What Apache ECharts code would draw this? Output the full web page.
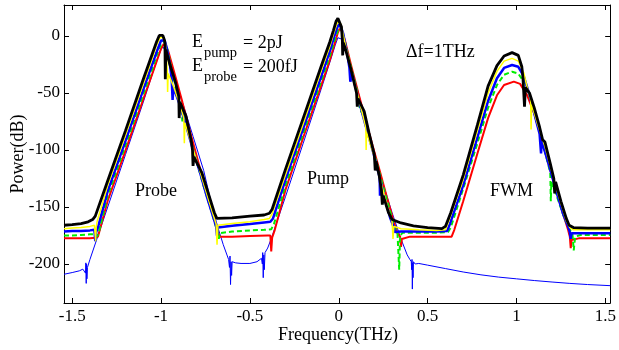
<!DOCTYPE html>
<html>
<head>
<meta charset="utf-8">
<script src="https://cdn.jsdelivr.net/npm/echarts@6/dist/echarts.min.js"></script>
<style>html,body{margin:0;padding:0;background:#fff;}#c{width:619px;height:350px;}</style>
</head>
<body>
<div id="c"></div>
<script>
const xTicks = [-1.5, -1, -0.5, 0, 0.5, 1, 1.5];
const yTicks = [-200, -150, -100, -50, 0];
const xLabelText = ['-1.5', '-1', '-0.5', '0', '0.5', '1', '1.5'];
const yLabelText = ['-200', '-150', '-100', '-50', '0'];
const xTitle = 'Frequency(THz)';
const yTitle = 'Power(dB)';

const blackPts = [[-1.546,-166],[-1.50,-165.5],[-1.45,-164.5],[-1.41,-163],[-1.385,-161],[-1.37,-158],
[-1.30,-127],[-1.20,-83],[-1.10,-38],[-1.05,-16],[-1.025,-5],[-1.01,0.5],[-1.0,2],[-0.99,0.5],[-0.98,-4],
[-0.978,-6],[-0.976,-38],[-0.973,-12],[-0.95,-25],[-0.92,-40],[-0.90,-53],[-0.898,-72],[-0.894,-58],[-0.86,-70],[-0.83,-92],[-0.823,-100],[-0.82,-114],[-0.815,-106],[-0.77,-120],[-0.73,-140],[-0.70,-155],[-0.686,-160],
[-0.675,-161],[-0.60,-159.5],[-0.50,-158],[-0.42,-157],[-0.39,-155.5],[-0.375,-152],
[-0.30,-117],[-0.20,-72],[-0.10,-27],[-0.05,-5],[-0.03,5],[-0.015,13],[-0.005,15.5],[0.005,14],[0.015,8],
[0.02,-3],[0.022,-17],[0.025,-6],[0.035,-10],[0.07,-30],[0.10,-50],[0.104,-62],[0.108,-55],[0.143,-66],[0.17,-85],[0.20,-104],[0.205,-118],[0.21,-110],[0.227,-122],[0.24,-135],[0.245,-148],[0.25,-140],[0.28,-155],[0.30,-161],
[0.35,-164],[0.42,-166.5],[0.50,-168],[0.58,-169],[0.60,-167],[0.63,-155],[0.70,-122],[0.78,-78],[0.84,-44],[0.89,-26],[0.93,-17.5],[0.975,-14.6],[1.01,-17],[1.03,-27],[1.036,-36],[1.045,-62],[1.05,-45],[1.073,-50],[1.10,-63],[1.13,-80],[1.147,-91],[1.16,-93],[1.19,-112],[1.21,-125],[1.215,-138],[1.22,-128],[1.25,-145],[1.28,-160],[1.296,-166],[1.32,-168],[1.40,-168.5],[1.527,-168.5]];

const yellowPts = [[-1.546,-169],[-1.50,-168.5],[-1.45,-168],[-1.40,-167],[-1.375,-166],[-1.368,-180],[-1.365,-168],[-1.36,-163],
[-1.30,-131],[-1.20,-87],[-1.10,-42],[-1.05,-20],[-1.025,-8],[-1.005,-1],[-0.995,0],[-0.985,-2],[-0.975,-7],
[-0.965,-30],[-0.963,-49],[-0.96,-33],[-0.93,-44],[-0.89,-62],[-0.872,-72],[-0.869,-94],[-0.866,-76],[-0.83,-94],[-0.78,-119],[-0.73,-145],[-0.70,-160],[-0.69,-165],[-0.685,-183],[-0.68,-166],
[-0.60,-164.5],[-0.50,-163],[-0.42,-161],[-0.39,-160],[-0.375,-156],
[-0.30,-122],[-0.20,-77],[-0.10,-31],[-0.05,-9],[-0.025,4],[-0.01,11],[0.0,13],[0.01,11],[0.02,5],
[0.04,-10],[0.08,-35],[0.12,-60],[0.152,-80],[0.154,-100],[0.156,-84],[0.20,-106],[0.24,-130],[0.28,-153],[0.30,-163],[0.305,-178],[0.31,-167],
[0.35,-169],[0.45,-170],[0.55,-170.5],[0.60,-170],[0.61,-166],
[0.70,-126],[0.78,-83],[0.84,-50],[0.89,-31],[0.93,-22],[0.975,-19.6],[1.01,-22],[1.04,-32],
[1.06,-45],[1.08,-56],[1.082,-82],[1.085,-60],[1.12,-78],[1.16,-97],[1.20,-120],[1.24,-142],[1.28,-162],[1.30,-168],[1.32,-170],[1.40,-170],[1.527,-170]];

const bluePts = [[-1.546,-171.5],[-1.50,-171],[-1.45,-171],[-1.40,-170.5],[-1.375,-170],[-1.37,-180],[-1.365,-172],[-1.355,-168],
[-1.30,-136],[-1.20,-92],[-1.10,-47],[-1.05,-25],[-1.02,-12],[-1.0,-4],[-0.99,-2.5],[-0.98,-4],[-0.97,-9],
[-0.95,-25],[-0.94,-38],[-0.935,-56],[-0.93,-45],[-0.90,-58],[-0.86,-78],[-0.82,-100],[-0.78,-120],[-0.74,-142],[-0.70,-162],[-0.69,-167],[-0.685,-175],[-0.68,-168],
[-0.60,-166.5],[-0.50,-165],[-0.42,-163.5],[-0.385,-163],[-0.37,-160],
[-0.30,-126],[-0.20,-81],[-0.10,-36],[-0.05,-13],[-0.025,0],[-0.01,7],[0.0,10],[0.012,8],[0.025,2],
[0.05,-18],[0.06,-28],[0.065,-40],[0.07,-40],[0.075,-33],[0.11,-55],[0.15,-78],[0.19,-100],[0.22,-118],[0.23,-124],[0.232,-140],[0.235,-127],[0.26,-143],[0.29,-160],[0.31,-168],[0.315,-172],
[0.35,-171.5],[0.45,-171.5],[0.55,-171.5],[0.61,-171],[0.625,-165],
[0.70,-131],[0.78,-89],[0.84,-57],[0.89,-37],[0.93,-28],[0.975,-25.4],[1.01,-27],[1.04,-35],
[1.07,-50],[1.10,-68],[1.13,-86],[1.138,-103],[1.142,-92],[1.18,-112],[1.22,-134],[1.26,-155],[1.29,-167],[1.30,-172],[1.305,-178],[1.31,-173],[1.35,-173],[1.527,-173]];

const greenPts = [[-1.546,-175],[-1.50,-175],[-1.45,-174.5],[-1.40,-174],[-1.37,-174],[-1.36,-176],[-1.35,-172],
[-1.30,-140],[-1.20,-96],[-1.10,-51],[-1.05,-29],[-1.02,-15],[-1.0,-7],[-0.985,-4.5],[-0.975,-6],[-0.965,-11],
[-0.94,-30],[-0.90,-55],[-0.885,-64],[-0.88,-75],[-0.875,-67],[-0.84,-88],[-0.80,-110],[-0.76,-132],[-0.72,-152],[-0.69,-168],[-0.68,-172],[-0.675,-178],[-0.67,-173],
[-0.60,-171.5],[-0.50,-170.5],[-0.42,-170],[-0.38,-169.5],[-0.365,-165],
[-0.30,-131],[-0.20,-85],[-0.10,-40],[-0.05,-17],[-0.02,-2],[-0.005,5],[0.005,8.5],[0.015,6],[0.03,-2],
[0.06,-22],[0.10,-46],[0.115,-58],[0.118,-64],[0.14,-70],[0.18,-93],[0.22,-115],[0.26,-138],[0.30,-160],[0.32,-170],[0.33,-172],[0.34,-205],[0.345,-175],
[0.36,-172.5],[0.45,-172.5],[0.55,-172.5],[0.615,-172],[0.63,-168],
[0.70,-134],[0.78,-94],[0.84,-63],[0.89,-43],[0.93,-34],[0.975,-31.3],[1.01,-33],[1.05,-42],
[1.08,-56],[1.11,-72],[1.15,-95],[1.19,-120],[1.193,-145],[1.196,-128],[1.23,-142],[1.27,-160],[1.30,-170],[1.315,-174],[1.322,-188],[1.33,-176],[1.36,-174.6],[1.527,-174.6]];

const redPts = [[-1.546,-177.5],[-1.50,-177.5],[-1.45,-177.5],[-1.40,-177.5],[-1.37,-177],[-1.355,-176],
[-1.30,-144.5],[-1.20,-100.5],[-1.10,-55.5],[-1.05,-33.5],[-1.02,-20],[-1.0,-11],[-0.985,-7],[-0.975,-7.5],[-0.96,-13],
[-0.92,-35],[-0.88,-58],[-0.84,-82],[-0.80,-105],[-0.76,-128],[-0.72,-150],[-0.68,-172],[-0.67,-176],
[-0.60,-176],[-0.50,-175.5],[-0.40,-175],[-0.385,-175],[-0.38,-189],[-0.375,-177],[-0.36,-170],
[-0.30,-135],[-0.20,-89],[-0.10,-44],[-0.05,-21],[-0.02,-5],[-0.005,3],[0.005,6.5],[0.018,4],[0.035,-4],
[0.07,-26],[0.11,-50],[0.15,-73],[0.19,-96],[0.23,-118],[0.27,-141],[0.31,-163],[0.33,-173],[0.345,-176],[0.35,-185],[0.355,-178],
[0.40,-176],[0.50,-176],[0.60,-176],[0.635,-176],[0.65,-170],
[0.70,-145],[0.78,-103],[0.84,-72],[0.89,-52],[0.93,-43],[0.985,-40],[1.02,-42],[1.06,-52],
[1.10,-68],[1.14,-90],[1.18,-112],[1.22,-134],[1.26,-155],[1.29,-170],[1.30,-176],[1.305,-186],[1.31,-179],[1.35,-177.5],[1.527,-177.5]];

const thinBluePts = [[-1.546,-209],[-1.50,-207.5],[-1.46,-206],[-1.44,-204.5],[-1.43,-203],[-1.425,-208],[-1.423,-199],[-1.421,-217],[-1.419,-200],[-1.417,-213],[-1.414,-203],
[-1.40,-196],[-1.30,-150],[-1.20,-104],[-1.10,-58],[-1.05,-34],[-1.02,-20],[-1.0,-12],[-0.99,-9.5],[-0.98,-10.5],[-0.97,-14],
[-0.93,-33],[-0.88,-58],[-0.82,-88],[-0.76,-118],[-0.712,-150],[-0.68,-168],[-0.65,-183],[-0.62,-196],[-0.615,-203],[-0.612,-193],[-0.609,-218],[-0.606,-198],[-0.603,-210],[-0.60,-198],[-0.58,-199],[-0.55,-199.5],[-0.50,-199.5],[-0.46,-198],[-0.435,-195],[-0.43,-200],[-0.428,-190],[-0.425,-212],[-0.422,-192],[-0.419,-205],[-0.415,-190],[-0.40,-186],[-0.378,-177],[-0.35,-164],
[-0.30,-141],[-0.20,-94],[-0.10,-47],[-0.05,-23],[-0.02,-8],[-0.005,-1.5],[0.005,-0.5],[0.02,-3],[0.04,-12],
[0.10,-44],[0.15,-73],[0.20,-102],[0.25,-130],[0.30,-155],[0.35,-178],[0.385,-192],[0.40,-196],[0.408,-198],[0.41,-205],[0.412,-196],[0.414,-222],[0.416,-199],[0.418,-212],[0.42,-198],[0.43,-200],
[0.45,-199.5],[0.50,-201],[0.60,-204],[0.70,-207],[0.80,-209.5],[0.90,-211.5],[1.0,-213],[1.1,-214.5],[1.2,-215.8],[1.3,-217],[1.4,-218],[1.527,-219]];

const annotations = {
  e1: 'E', s1: 'pump', v1: '= 2pJ',
  e2: 'E', s2: 'probe', v2: '= 200fJ',
  df: 'Δf=1THz', probe: 'Probe', pump: 'Pump', fwm: 'FWM'
};

const FONT = '"Liberation Serif", "Times New Roman", serif';
const chart = echarts.init(document.getElementById('c'), null, {renderer: 'canvas'});

function axisCommon(show) {
  return {
    axisLine: {show: true, lineStyle: {color: '#000', width: 1}},
    splitLine: {show: false},
  };
}

function mkLine(name, data, color, width, type, z) {
  return {
    name, type: 'line', data, showSymbol: false, symbol: 'none',
    lineStyle: {color, width, type: type || 'solid'},
    z: z, animation: false, silent: true, clip: true
  };
}

const T = (text, x, y, size, align) => ({
  type: 'text', x, y, silent: true,
  style: {text, fontFamily: FONT, fontSize: size, fill: '#000', align: align || 'left', verticalAlign: 'middle'}
});

const option = {
  animation: false,
  backgroundColor: '#fff',
  grid: {left: 64, right: 6, top: 5, bottom: 47, show: false},
  xAxis: [
    {type: 'value', min: -1.546, max: 1.527, position: 'bottom',
     axisLine: {show: true, onZero: false, lineStyle: {color: '#000'}},
     axisTick: {show: true, inside: true, length: 5, customValues: xTicks, lineStyle: {color: '#000'}},
     axisLabel: {show: true, customValues: xTicks, margin: 5, color: '#000', fontFamily: FONT, fontSize: 17,
       formatter: v => xLabelText[xTicks.indexOf(v)] ?? String(v)},
     splitLine: {show: false}},
    {type: 'value', min: -1.546, max: 1.527, position: 'top',
     axisLine: {show: true, onZero: false, lineStyle: {color: '#000'}},
     axisTick: {show: true, inside: true, length: 5, customValues: xTicks, lineStyle: {color: '#000'}},
     axisLabel: {show: false}, splitLine: {show: false}}
  ],
  yAxis: [
    {type: 'value', min: -234.2, max: 27.2, position: 'left',
     axisLine: {show: true, onZero: false, lineStyle: {color: '#000'}},
     axisTick: {show: true, inside: true, length: 5, customValues: yTicks, lineStyle: {color: '#000'}},
     axisLabel: {show: true, customValues: yTicks, margin: 4, color: '#000', fontFamily: FONT, fontSize: 17,
       formatter: v => yLabelText[yTicks.indexOf(v)] ?? String(v)},
     splitLine: {show: false}},
    {type: 'value', min: -234.2, max: 27.2, position: 'right',
     axisLine: {show: true, onZero: false, lineStyle: {color: '#000'}},
     axisTick: {show: true, inside: true, length: 5, customValues: yTicks, lineStyle: {color: '#000'}},
     axisLabel: {show: false}, splitLine: {show: false}}
  ],
  series: [
    mkLine('thinBlue', thinBluePts, '#0000ff', 1, 'solid', 2),
    mkLine('red', redPts, '#ff0000', 2, 'solid', 3),
    mkLine('green', greenPts, '#00ee00', 2, [5, 3], 4),
    mkLine('blue', bluePts, '#0000ff', 2.5, 'solid', 5),
    mkLine('yellow', yellowPts, '#ffff00', 1.5, 'solid', 6),
    mkLine('black', blackPts, '#000000', 2.8, 'solid', 7)
  ],
  graphic: [
    T(annotations.e1, 192, 42, 18), T(annotations.s1, 204, 53, 14.5), T(annotations.v1, 243, 43, 18),
    T(annotations.e2, 192, 66, 18), T(annotations.s2, 204, 77, 14.5), T(annotations.v2, 243, 67, 18),
    T(annotations.df, 406, 52, 18),
    T(annotations.probe, 135, 191, 18), T(annotations.pump, 307, 179, 18), T(annotations.fwm, 490, 191, 18),
    {type: 'text', x: 18, y: 154, rotation: Math.PI / 2, silent: true,
     style: {text: yTitle, fontFamily: FONT, fontSize: 18, fill: '#000', align: 'center', verticalAlign: 'middle'}},
    T(xTitle, 338, 335, 18, 'center')
  ]
};
chart.setOption(option);
</script>
</body>
</html>
